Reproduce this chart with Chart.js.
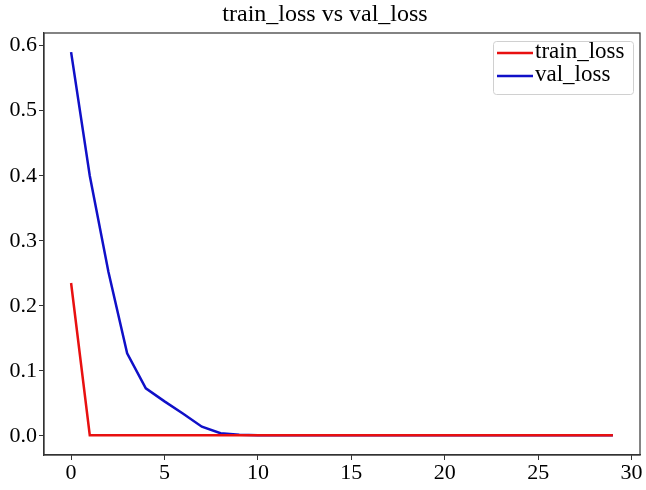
<!DOCTYPE html>
<html>
<head>
<meta charset="utf-8">
<script src="https://cdn.jsdelivr.net/npm/chart.js@4.4.0/dist/chart.umd.min.js"></script>
<style>
  html, body { margin: 0; padding: 0; background: #fff; }
</style>
</head>
<body>
<canvas id="grafica" width="646" height="490"></canvas>
<script>
// datos del gráfico
const epocas = [0,1,2,3,4,5,6,7,8,9,10,11,12,13,14,15,16,17,18,19,20,21,22,23,24,25,26,27,28,29];
const trainLoss = [0.235,0.001,0.001,0.001,0.001,0.001,0.001,0.001,0.001,0.001,0.001,0.001,0.001,0.001,0.001,0.001,0.001,0.001,0.001,0.001,0.001,0.001,0.001,0.001,0.001,0.001,0.001,0.001,0.001,0.001];
const valLoss = [0.59,0.40,0.252,0.127,0.073,0.053,0.034,0.014,0.004,0.0015,0.001,0.001,0.001,0.001,0.001,0.001,0.001,0.001,0.001,0.001,0.001,0.001,0.001,0.001,0.001,0.001,0.001,0.001,0.001,0.001];
const xTicks = [0, 5, 10, 15, 20, 25, 30];
const yTicks = [0.0, 0.1, 0.2, 0.3, 0.4, 0.5, 0.6];
const titulo = "train_loss vs val_loss";

const serif = "'Liberation Serif', 'Times New Roman', serif";
const rojo = '#e81010';
const azul = '#1010c8';

// marco, título y leyenda al estilo matplotlib
const marco = {
  id: 'marco',
  afterDraw(chart) {
    const { ctx, chartArea: a } = chart;
    ctx.save();
    ctx.strokeStyle = '#333';
    ctx.lineWidth = 1.2;
    ctx.strokeRect(a.left, a.top, a.right - a.left, a.bottom - a.top);

    ctx.fillStyle = '#000';
    ctx.font = '24px ' + serif;
    ctx.textAlign = 'center';
    ctx.textBaseline = 'middle';
    ctx.fillText(titulo, 325, 15);

    // leyenda
    ctx.strokeStyle = '#d0d0d0';
    ctx.lineWidth = 1;
    ctx.beginPath();
    ctx.roundRect(493.5, 41.5, 140, 53, 3);
    ctx.fillStyle = 'rgba(255,255,255,0.8)';
    ctx.fill();
    ctx.stroke();
    ctx.font = '23px ' + serif;
    ctx.textAlign = 'left';
    chart.data.datasets.forEach((ds, i) => {
      const y = 52 + i * 23;
      ctx.strokeStyle = ds.borderColor;
      ctx.lineWidth = 2.5;
      ctx.beginPath();
      ctx.moveTo(497, y + 1);
      ctx.lineTo(533, y + 1);
      ctx.stroke();
      ctx.fillStyle = '#000';
      ctx.fillText(ds.label, 535, y);
    });
    ctx.restore();
  }
};

const ejes = (ticks) => (s) => { s.ticks = ticks.map(v => ({ value: v })); };

new Chart(document.querySelector('#grafica'), {
  type: 'line',
  data: {
    datasets: [
      { label: 'train_loss', data: epocas.map((e, i) => ({ x: e, y: trainLoss[i] })), borderColor: rojo, borderWidth: 2.5, pointRadius: 0, fill: false, tension: 0 },
      { label: 'val_loss', data: epocas.map((e, i) => ({ x: e, y: valLoss[i] })), borderColor: azul, borderWidth: 2.5, pointRadius: 0, fill: false, tension: 0 }
    ]
  },
  options: {
    responsive: false,
    animation: false,
    layout: { padding: { top: 33, right: 6, left: 0, bottom: 0 } },
    plugins: { legend: { display: false }, title: { display: false }, tooltip: { enabled: false } },
    scales: {
      x: {
        type: 'linear', min: -1.45, max: 30.45,
        afterBuildTicks: ejes(xTicks),
        afterFit: s => { s.height = 35; },
        ticks: { color: '#000', font: { family: serif, size: 22 }, padding: 0, maxRotation: 0, autoSkip: false },
        grid: { drawOnChartArea: false, drawTicks: true, tickLength: 5, tickColor: '#333' },
        border: { color: '#333', width: 1.2 }
      },
      y: {
        min: -0.0295, max: 0.6195,
        afterBuildTicks: ejes(yTicks),
        afterFit: s => { s.width = 44; },
        ticks: { color: '#000', font: { family: serif, size: 22 }, padding: 2, callback: v => v.toFixed(1) },
        grid: { drawOnChartArea: false, drawTicks: true, tickLength: 5, tickColor: '#333' },
        border: { color: '#333', width: 1.2 }
      }
    }
  },
  plugins: [marco]
});
</script>
</body>
</html>
